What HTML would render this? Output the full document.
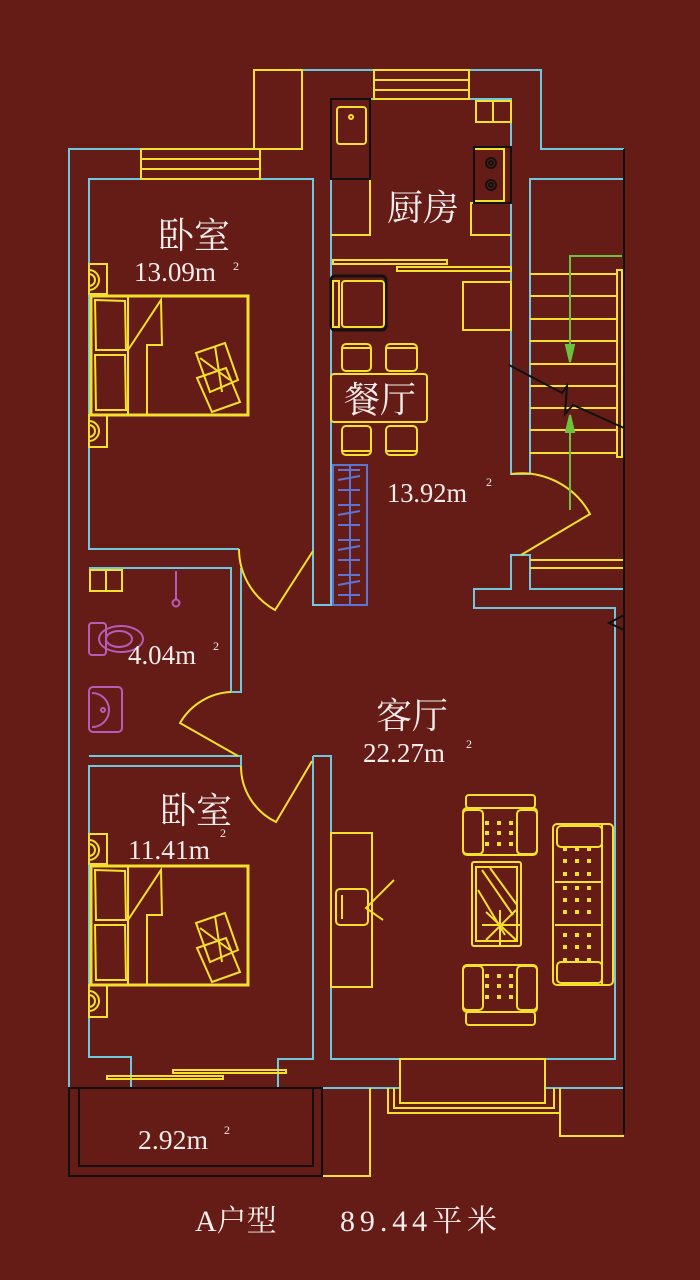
<!DOCTYPE html>
<html><head><meta charset="utf-8"><style>
html,body{margin:0;padding:0;background:#651c17;}
svg{display:block}
text{fill:#f4ecea;}
.cn{font-family:"Liberation Serif","Noto Serif CJK SC",serif;}
.num{font-family:"Liberation Serif","Noto Serif CJK SC",serif;}
</style></head><body>
<svg width="700" height="1280" viewBox="0 0 700 1280" xmlns="http://www.w3.org/2000/svg">
<defs>
<g id="d3"><rect x="0" y="0" width="4" height="4"/><rect x="12" y="0" width="4" height="4"/><rect x="24" y="0" width="4" height="4"/></g>
</defs>
<rect width="700" height="1280" fill="#651c17"/>

<!-- CYAN WALLS -->
<g fill="none" stroke="#6fc9de" stroke-width="2">
<polyline points="141,149 69,149 69,1088 131,1088 131,1057 89,1057 89,766 241,766 241,756 89,756"/>
<polyline points="260,149 302,149 302,70 374,70"/>
<polyline points="469,70 541,70 541,149 624,149"/>
<polyline points="141,179 89,179 89,549 239,549"/>
<polyline points="260,179 313,179 313,551"/>
<polyline points="374,99 331,99 331,605 313,605 313,551"/>
<polyline points="469,99 511,99 511,474 530,474"/>
<polyline points="624,179 530,179 530,474"/>
<polyline points="521,555 530,555 530,589 624,589"/>
<polyline points="521,555 511,555 511,589 474,589 474,608 615,608 615,1059 545,1059 545,1088 624,1088"/>
<polyline points="89,568 231,568 231,692 241,692 241,568"/>
<polyline points="313,756 331,756 331,1059 400,1059 400,1088 278,1088 278,1059 313,1059 313,756"/>
<line x1="545" y1="1059" x2="545" y2="1088"/>
</g>

<!-- YELLOW -->
<g fill="none" stroke="#f2e02a" stroke-width="2">
<rect x="141" y="149" width="119" height="30"/>
<line x1="141" y1="159" x2="260" y2="159"/><line x1="141" y1="169" x2="260" y2="169"/>
<rect x="374" y="70" width="95" height="29"/>
<line x1="374" y1="80" x2="469" y2="80"/><line x1="374" y1="90" x2="469" y2="90"/>
<rect x="254" y="70" width="48" height="79"/>
<rect x="337" y="107" width="29" height="37" rx="3"/>
<circle cx="351" cy="117" r="2"/>
<polyline points="370,179 370,235 331,235"/>
<rect x="476" y="101" width="35" height="21"/><line x1="493" y1="101" x2="493" y2="122"/>
<rect x="474" y="149" width="30" height="52"/>
<polyline points="511,203 471,203 471,235 511,235"/>
<rect x="333" y="260" width="114" height="4"/>
<rect x="397" y="267" width="114" height="4"/>
<rect x="463" y="282" width="48" height="48"/>
<rect x="331" y="276" width="55" height="54" rx="4" stroke="#111" stroke-width="3"/>
<rect x="342" y="281" width="42" height="46" rx="3"/>
<rect x="333" y="281" width="6" height="46"/>
<rect x="342" y="344" width="29" height="27" rx="4"/><line x1="342" y1="348" x2="371" y2="348"/>
<rect x="386" y="344" width="31" height="27" rx="4"/><line x1="386" y1="348" x2="417" y2="348"/>
<rect x="331" y="374" width="96" height="48" rx="3"/>
<rect x="342" y="426" width="29" height="29" rx="4"/><line x1="342" y1="451" x2="371" y2="451"/>
<rect x="386" y="426" width="31" height="29" rx="4"/><line x1="386" y1="451" x2="417" y2="451"/>
<g>
<line x1="530" y1="274" x2="617" y2="274"/><line x1="530" y1="296" x2="617" y2="296"/>
<line x1="530" y1="319" x2="617" y2="319"/><line x1="530" y1="341" x2="617" y2="341"/>
<line x1="530" y1="364" x2="617" y2="364"/><line x1="530" y1="386" x2="617" y2="386"/>
<line x1="530" y1="408" x2="617" y2="408"/><line x1="530" y1="430" x2="617" y2="430"/>
<line x1="530" y1="453" x2="617" y2="453"/>
<rect x="617" y="270" width="5" height="187"/>
<line x1="530" y1="560" x2="624" y2="560"/><line x1="530" y1="568" x2="624" y2="568"/>
</g>
<path d="M511,474 A78,78 0 0 1 590,514 L521,555"/>
<path d="M239,549 A70,70 0 0 0 275,610 L313,551"/>
<path d="M231,692 A62,62 0 0 0 180,723 L238,756"/>
<path d="M241,766 A62,62 0 0 0 276,822 L312,761"/>
<g id="bed">
<rect x="91" y="296" width="157" height="119" stroke-width="3"/>
<rect x="89" y="264" width="18" height="30"/><rect x="89" y="415" width="18" height="32"/>
<path d="M89,270 a8,8 0 0 1 0,20 M89,274 a4,4 0 0 1 0,12"/>
<path d="M89,421 a8,8 0 0 1 0,20 M89,425 a4,4 0 0 1 0,12"/>
<path d="M95,300 L125,301 L126,350 L96,350 Z"/>
<path d="M95,355 L125,355 L126,410 L96,410 Z"/>
<line x1="128" y1="296" x2="128" y2="415"/>
<path d="M128,350 L161,300 L162,345 L147,345 L147,415"/>
<path d="M196,353 L225,343 L238,380 L210,392 Z"/>
<path d="M197,378 L226,368 L240,402 L212,412 Z"/>
<path d="M200,358 L230,380 M215,346 L222,392"/>
</g>
<use href="#bed" transform="translate(0,570)"/>
<rect x="173" y="1070" width="113" height="3"/>
<rect x="107" y="1076" width="116" height="3"/>
<rect x="400" y="1059" width="145" height="44"/>
<polyline points="388,1088 388,1113 560,1113 560,1088"/>
<polyline points="394,1088 394,1108 554,1108 554,1088"/>
<polyline points="322,1176 370,1176 370,1088"/>
<polyline points="560,1088 560,1136 624,1136"/>
<rect x="331" y="833" width="41" height="154"/>
<rect x="336" y="889" width="32" height="36" rx="4"/>
<path d="M342,895 L342,919 M394,880 L366,908 L383,920"/>
<g id="arm">
<rect x="466" y="795" width="69" height="13" rx="3"/>
<rect x="463" y="808" width="74" height="47" rx="4"/>
<rect x="463" y="810" width="20" height="44" rx="4"/>
<rect x="517" y="810" width="20" height="44" rx="4"/>
</g>
<g transform="translate(0,1820) scale(1,-1)"><use href="#arm"/></g>
<rect x="472" y="862" width="49" height="84" rx="2"/>
<rect x="476" y="867" width="41" height="74"/>
<path d="M482,870 L513,915 M490,868 L517,905 M478,890 L505,935"/>
<path d="M482,925 L520,925 M500,910 L500,945 M486,912 L516,940 M516,910 L486,940"/>
<rect x="553" y="824" width="60" height="161" rx="4"/>
<line x1="602" y1="824" x2="602" y2="985"/>
<rect x="557" y="826" width="45" height="21" rx="4"/>
<rect x="557" y="962" width="45" height="21" rx="4"/>
<line x1="555" y1="882" x2="602" y2="882"/><line x1="555" y1="925" x2="602" y2="925"/>
<rect x="90" y="570" width="32" height="21"/><line x1="106" y1="570" x2="106" y2="591"/>
</g>
<!-- dots -->
<g fill="#f2e02a">
<use href="#d3" x="485" y="821"/><use href="#d3" x="485" y="831"/><use href="#d3" x="485" y="842"/>
<use href="#d3" x="485" y="974"/><use href="#d3" x="485" y="984"/><use href="#d3" x="485" y="995"/>
<use href="#d3" x="563" y="847"/><use href="#d3" x="563" y="859"/><use href="#d3" x="563" y="872"/>
<use href="#d3" x="563" y="886"/><use href="#d3" x="563" y="898"/><use href="#d3" x="563" y="910"/>
<use href="#d3" x="563" y="933"/><use href="#d3" x="563" y="945"/><use href="#d3" x="563" y="958"/>
</g>

<g fill="none" stroke="#b85cb8" stroke-width="2">
<line x1="176" y1="571" x2="176" y2="600"/><circle cx="176" cy="603" r="3.5"/>
<rect x="89" y="623" width="17" height="32" rx="3"/>
<ellipse cx="121" cy="639" rx="22" ry="13"/><ellipse cx="119" cy="639" rx="13" ry="8"/>
<rect x="89" y="687" width="33" height="45" rx="4"/>
<path d="M92,693 a15,15 0 0 1 0,34"/><circle cx="103" cy="710" r="2"/>
</g>

<g fill="none" stroke="#5d74d4" stroke-width="2">
<rect x="333" y="465" width="34" height="140"/>
<line x1="350" y1="465" x2="350" y2="605"/>
<path d="M338,470 h22 M338,480 l22,-4 M338,490 h22 M338,505 h22 M338,515 l22,-4 M338,525 h22 M338,540 h22 M338,550 l22,-4 M338,560 h22 M338,575 h22 M338,585 l22,-4 M338,595 h22"/>
</g>

<g fill="none" stroke="#111" stroke-width="2">
<rect x="331" y="99" width="39" height="80"/>
<rect x="474" y="147" width="37" height="56"/>
<circle cx="491" cy="163" r="5"/><circle cx="491" cy="163" r="2"/>
<circle cx="491" cy="185" r="5"/><circle cx="491" cy="185" r="2"/>
<line x1="624" y1="149" x2="624" y2="1134"/>
<polyline points="509,365 562,393 567,386 565,414 573,405 624,428"/>
<polyline points="624,615 609,623 624,630"/>
<rect x="69" y="1088" width="253" height="88"/>
<polyline points="79,1088 79,1166 313,1166 313,1088"/>
</g>
<g stroke="#6cc23a" stroke-width="2" fill="#6cc23a">
<polyline points="622,256 570,256 570,362" fill="none"/>
<polygon points="566,345 574,345 570,362"/>
<line x1="570" y1="415" x2="570" y2="510"/>
<polygon points="566,432 574,432 570,415"/>
</g>

<g class="cn" font-size="36">
<text x="158" y="248">卧室</text>
<text x="387" y="220">厨房</text>
<text x="344" y="412">餐厅</text>
<text x="376" y="728">客厅</text>
<text x="160" y="823">卧室</text>
</g>
<g class="num" font-size="27" lengthAdjust="spacingAndGlyphs">
<text x="134" y="281" textLength="82" lengthAdjust="spacingAndGlyphs">13.09m</text>
<text x="387" y="502" textLength="80" lengthAdjust="spacingAndGlyphs">13.92m</text>
<text x="128" y="664" textLength="68" lengthAdjust="spacingAndGlyphs">4.04m</text>
<text x="363" y="762" textLength="82" lengthAdjust="spacingAndGlyphs">22.27m</text>
<text x="128" y="859" textLength="82" lengthAdjust="spacingAndGlyphs">11.41m</text>
<text x="138" y="1149" textLength="70" lengthAdjust="spacingAndGlyphs">2.92m</text>
</g>
<g class="num" font-size="12">
<text x="233" y="270">2</text><text x="486" y="486">2</text>
<text x="213" y="650">2</text><text x="466" y="748">2</text>
<text x="220" y="837">2</text><text x="224" y="1134">2</text>
</g>
<text class="cn" x="195" y="1231" font-size="30">A户型</text>
<text class="cn" x="340" y="1231" font-size="30" textLength="157">89.44平米</text>
</svg>
</body></html>
